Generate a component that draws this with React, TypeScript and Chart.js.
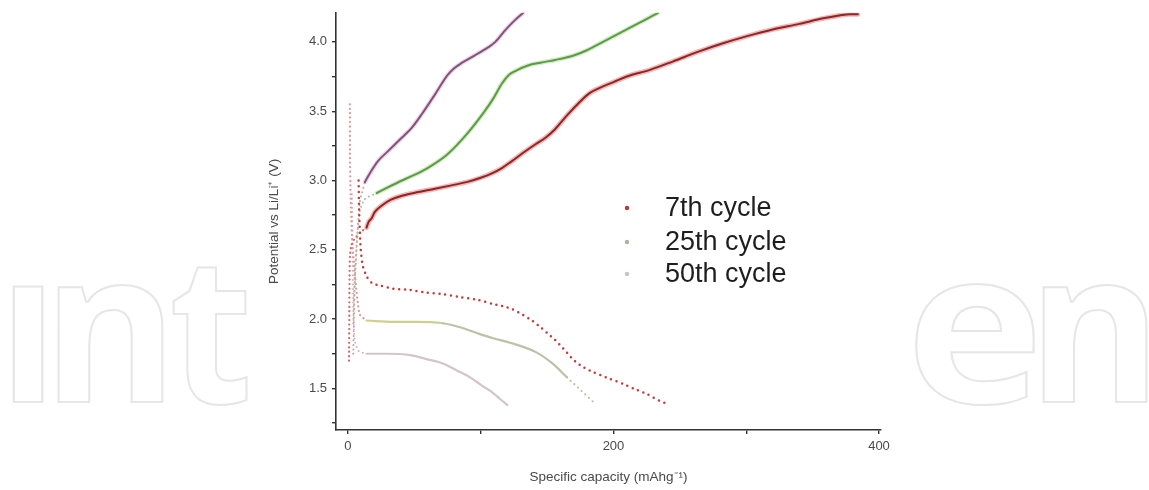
import { useEffect, useRef } from 'react';
import { Chart, registerables } from 'chart.js';

Chart.register(...registerables);

// ---- Axis ticks ----
const xTickValues = [0, 100, 200, 300, 400];
const xTickLabels = ['0', '', '200', '', '400'];
const yTickValues = [1.25, 1.5, 1.75, 2.0, 2.25, 2.5, 2.75, 3.0, 3.25, 3.5, 3.75, 4.0];
const yTickLabels = ['', '1.5', '', '2.0', '', '2.5', '', '3.0', '', '3.5', '', '4.0'];

const cycleLabels = ['7th cycle', '25th cycle', '50th cycle'];

// ---- 7th cycle ----
const c7StartX = [0.8, 1.0, 1.2, 1.5, 2.5, 5, 10, 14];
const c7StartY = [1.7, 2.0, 2.3, 2.45, 2.53, 2.58, 2.63, 2.66];
const c7ChargeX = [14, 15.5, 18, 20, 25.6, 32, 40.7, 52, 65.5, 78, 90, 100, 108, 116, 123.5, 132, 141, 149, 156, 165, 175, 182, 190, 200, 210, 228, 245, 264, 282.5, 300, 320, 340, 358, 370, 378, 384];
const c7ChargeY = [2.66, 2.7, 2.73, 2.77, 2.82, 2.86, 2.89, 2.915, 2.94, 2.965, 2.99, 3.02, 3.05, 3.09, 3.14, 3.2, 3.26, 3.31, 3.37, 3.47, 3.57, 3.63, 3.67, 3.71, 3.75, 3.8, 3.86, 3.93, 3.99, 4.04, 4.09, 4.13, 4.17, 4.19, 4.2, 4.2];
const c7DischargeX = [8, 8.5, 9.5, 11, 14, 18, 25, 34, 47, 59.5, 72, 84, 97, 109, 118, 124, 130, 137, 144, 150, 156, 162, 169.5, 176, 184, 197, 208, 215, 225, 235, 240];
const c7DischargeY = [3.0, 2.75, 2.52, 2.39, 2.31, 2.26, 2.24, 2.22, 2.21, 2.19, 2.18, 2.16, 2.14, 2.11, 2.09, 2.07, 2.04, 2.0, 1.95, 1.9, 1.85, 1.79, 1.71, 1.66, 1.62, 1.57, 1.53, 1.5, 1.46, 1.41, 1.39];

// ---- 25th cycle ----
const c25StartX = [1.5, 1.5, 2, 3, 5, 7, 9, 14];
const c25StartY = [3.55, 3.2, 2.9, 2.6, 2.35, 2.15, 2.03, 1.99];
const c25RiseX = [4, 5, 7, 9, 12, 15, 21.8];
const c25RiseY = [1.97, 2.3, 2.6, 2.78, 2.86, 2.88, 2.91];
const c25ChargeX = [21.8, 30, 40.7, 50, 60, 75, 90, 103, 110, 116, 121, 126, 135.6, 145, 156, 169.5, 180, 190, 200, 210, 222, 233.5];
const c25ChargeY = [2.91, 2.95, 3.0, 3.04, 3.09, 3.19, 3.34, 3.5, 3.6, 3.7, 3.76, 3.79, 3.83, 3.85, 3.87, 3.9, 3.94, 3.99, 4.04, 4.09, 4.15, 4.21];
const c25DischargeX = [14, 34, 50, 71.5, 85, 97, 110, 122, 142, 154, 165, 175, 185];
const c25DischargeY = [1.99, 1.98, 1.98, 1.97, 1.94, 1.9, 1.86, 1.83, 1.76, 1.68, 1.58, 1.49, 1.4];

// ---- 50th cycle ----
const c50StartX = [3, 3.5, 4, 5, 8, 14];
const c50StartY = [2.9, 2.5, 2.1, 1.85, 1.77, 1.75];
const c50RiseX = [4, 5, 7, 9, 12.8];
const c50RiseY = [1.75, 2.2, 2.6, 2.85, 2.99];
const c50ChargeX = [12.8, 17, 22.6, 30, 40.7, 48, 55.7, 65.5, 75, 80, 86, 95, 105.5, 111, 118, 125, 132];
const c50ChargeY = [2.99, 3.06, 3.14, 3.21, 3.31, 3.38, 3.48, 3.62, 3.76, 3.81, 3.85, 3.9, 3.96, 4.0, 4.08, 4.15, 4.21];
const c50DischargeX = [14, 30, 47, 60, 71.5, 82, 92, 101, 109, 115, 120];
const c50DischargeY = [1.75, 1.75, 1.74, 1.71, 1.68, 1.63, 1.58, 1.52, 1.47, 1.42, 1.38];

const pts = (xs: number[], ys: number[]) => xs.map((x, i) => ({ x, y: ys[i] }));

const FONT = '"Liberation Sans", Arial, sans-serif';

const dotted = (data: { x: number; y: number }[], color: string, width = 2.4, gap = 5.5, order = 3) => ({
  data,
  borderColor: color,
  borderWidth: width,
  borderDash: [0, gap],
  borderCapStyle: 'round' as const,
  pointRadius: 0,
  tension: 0.2,
  fill: false,
  order,
});

const solid = (data: { x: number; y: number }[], color: string, width: number, order: number) => ({
  data,
  borderColor: color,
  borderWidth: width,
  borderCapStyle: 'round' as const,
  borderJoinStyle: 'round' as const,
  pointRadius: 0,
  cubicInterpolationMode: 'monotone' as const,
  fill: false,
  order,
});

// Faint outlined "IntechOpen" letters behind the plot
const watermark = {
  id: 'watermark',
  beforeDraw(chart: Chart) {
    const ctx = chart.ctx;
    const glyphs: [string, number, number, number, number][] = [
      ['I', 13, 43, 287, 402],
      ['n', 58, 163, 285, 402],
      ['t', 173, 247, 268, 405],
      ['e', 915, 1034, 284, 405],
      ['n', 1043, 1147, 285, 402],
    ];
    ctx.save();
    ctx.font = 'bold 200px "Open Sans", sans-serif';
    ctx.textBaseline = 'alphabetic';
    ctx.textAlign = 'left';
    ctx.strokeStyle = '#e6e6e6';
    for (const [ch, x0, x1, y0, y1] of glyphs) {
      const m = ctx.measureText(ch);
      const inkW = m.actualBoundingBoxLeft + m.actualBoundingBoxRight;
      const inkH = m.actualBoundingBoxAscent + m.actualBoundingBoxDescent;
      const sx = (x1 - x0) / inkW;
      const sy = (y1 - y0) / inkH;
      ctx.save();
      ctx.translate(x0, y1);
      ctx.scale(sx, sy);
      ctx.lineWidth = 2.0 / Math.sqrt(sx * sy);
      ctx.strokeText(ch, m.actualBoundingBoxLeft, -m.actualBoundingBoxDescent);
      ctx.restore();
    }
    ctx.restore();
  },
};

// Cycle key drawn inside the plot
const cycleKey = {
  id: 'cycleKey',
  afterDraw(chart: Chart) {
    const ctx = chart.ctx;
    const markerColors = ['#b03a3a', '#a9b59b', '#cdc2c8'];
    const rows = [208, 242, 274];
    ctx.save();
    ctx.font = `27px ${FONT}`;
    ctx.textBaseline = 'middle';
    ctx.textAlign = 'left';
    cycleLabels.forEach((label, i) => {
      ctx.fillStyle = markerColors[i];
      ctx.beginPath();
      ctx.arc(627, rows[i], 2.2, 0, Math.PI * 2);
      ctx.fill();
      ctx.fillStyle = '#1e1e1e';
      ctx.fillText(label, 665, rows[i] + 1);
    });
    ctx.restore();
  },
};

export default function App() {
  const canvasRef = useRef<HTMLCanvasElement | null>(null);

  useEffect(() => {
    if (!canvasRef.current) return;
    const chart = new Chart(canvasRef.current, {
      type: 'line',
      data: {
        datasets: [
          // charge curves: dark core over a soft halo
          solid(pts(c7ChargeX, c7ChargeY), '#8a2727', 2.0, 1),
          solid(pts(c7ChargeX, c7ChargeY), 'rgba(236,110,110,0.5)', 5, 6),
          solid(pts(c25ChargeX, c25ChargeY), '#5b9c45', 2.0, 1),
          solid(pts(c25ChargeX, c25ChargeY), 'rgba(150,205,120,0.4)', 4.5, 6),
          solid(pts(c50ChargeX, c50ChargeY), '#85507c', 2.0, 1),
          solid(pts(c50ChargeX, c50ChargeY), 'rgba(205,160,195,0.4)', 4.5, 6),
          // discharge curves
          dotted(pts(c7DischargeX, c7DischargeY), '#c23b3b', 2.5, 5.8, 2),
          {
            ...solid(pts(c25DischargeX, c25DischargeY), '#bcc2a8', 2.2, 4),
            segment: {
              borderDash: (ctx: any) => (ctx.p0.parsed.x >= 160 ? [0, 5] : undefined),
              borderColor: (ctx: any) => (ctx.p0.parsed.x < 60 ? '#cfd08e' : undefined),
            },
          },
          solid(pts(c50DischargeX, c50DischargeY), '#d2c6c9', 2.2, 4),
          // steep segments close to zero capacity
          dotted(pts(c7StartX, c7StartY), '#d36a6a', 2.3, 4.5, 3),
          dotted(pts(c25StartX, c25StartY), '#d99a9a', 2.3, 4.5, 3),
          dotted(pts(c25RiseX, c25RiseY), '#a9c08f', 2.0, 4.5, 3),
          dotted(pts(c50StartX, c50StartY), '#d6aebb', 2.0, 4.5, 3),
          dotted(pts(c50RiseX, c50RiseY), '#c79ab8', 2.0, 4.5, 3),
        ],
      },
      options: {
        animation: false,
        responsive: true,
        maintainAspectRatio: false,
        layout: { padding: { left: 262, right: 268, top: 12, bottom: 1 } },
        plugins: {
          legend: { display: false },
          tooltip: { enabled: false },
        },
        scales: {
          x: {
            type: 'linear',
            min: -9,
            max: 401.5,
            afterBuildTicks: (s: any) => {
              s.ticks = xTickValues.map((v) => ({ value: v }));
            },
            afterFit: (s: any) => {
              s.height = 59;
            },
            ticks: {
              callback: (v: any) => xTickLabels[xTickValues.indexOf(Number(v))] ?? '',
              font: { family: FONT, size: 13 },
              color: '#4a4a4a',
              padding: 5,
              maxRotation: 0,
              autoSkip: false,
            },
            grid: {
              display: true,
              drawOnChartArea: false,
              drawTicks: true,
              tickLength: 4,
              color: '#333',
              lineWidth: 1.4,
            },
            border: { display: true, color: '#333', width: 1.6 },
            title: {
              display: true,
              text: 'Specific capacity (mAhg⁻¹)',
              font: { family: FONT, size: 13.5 },
              color: '#4a4a4a',
              padding: { top: 4, bottom: 4 },
            },
          },
          y: {
            type: 'linear',
            min: 1.2,
            max: 4.21,
            afterBuildTicks: (s: any) => {
              s.ticks = yTickValues.map((v) => ({ value: v }));
            },
            afterFit: (s: any) => {
              s.width = 74;
            },
            ticks: {
              callback: (v: any) => yTickLabels[yTickValues.indexOf(Number(v))] ?? '',
              font: { family: FONT, size: 13 },
              color: '#4a4a4a',
              padding: 5,
              autoSkip: false,
            },
            grid: {
              display: true,
              drawOnChartArea: false,
              drawTicks: true,
              tickLength: 4,
              color: '#333',
              lineWidth: 1.4,
            },
            border: { display: true, color: '#333', width: 1.6 },
            title: {
              display: true,
              text: 'Potential vs Li/Li⁺ (V)',
              font: { family: FONT, size: 13.5 },
              color: '#4a4a4a',
              padding: { top: 4, bottom: 4 },
            },
          },
        },
      },
      plugins: [watermark, cycleKey],
    } as any);
    return () => chart.destroy();
  }, []);

  return (
    <div style={{ position: 'absolute', left: 0, top: 0, width: 1149, height: 490, background: '#fff' }}>
      <canvas ref={canvasRef} />
    </div>
  );
}
